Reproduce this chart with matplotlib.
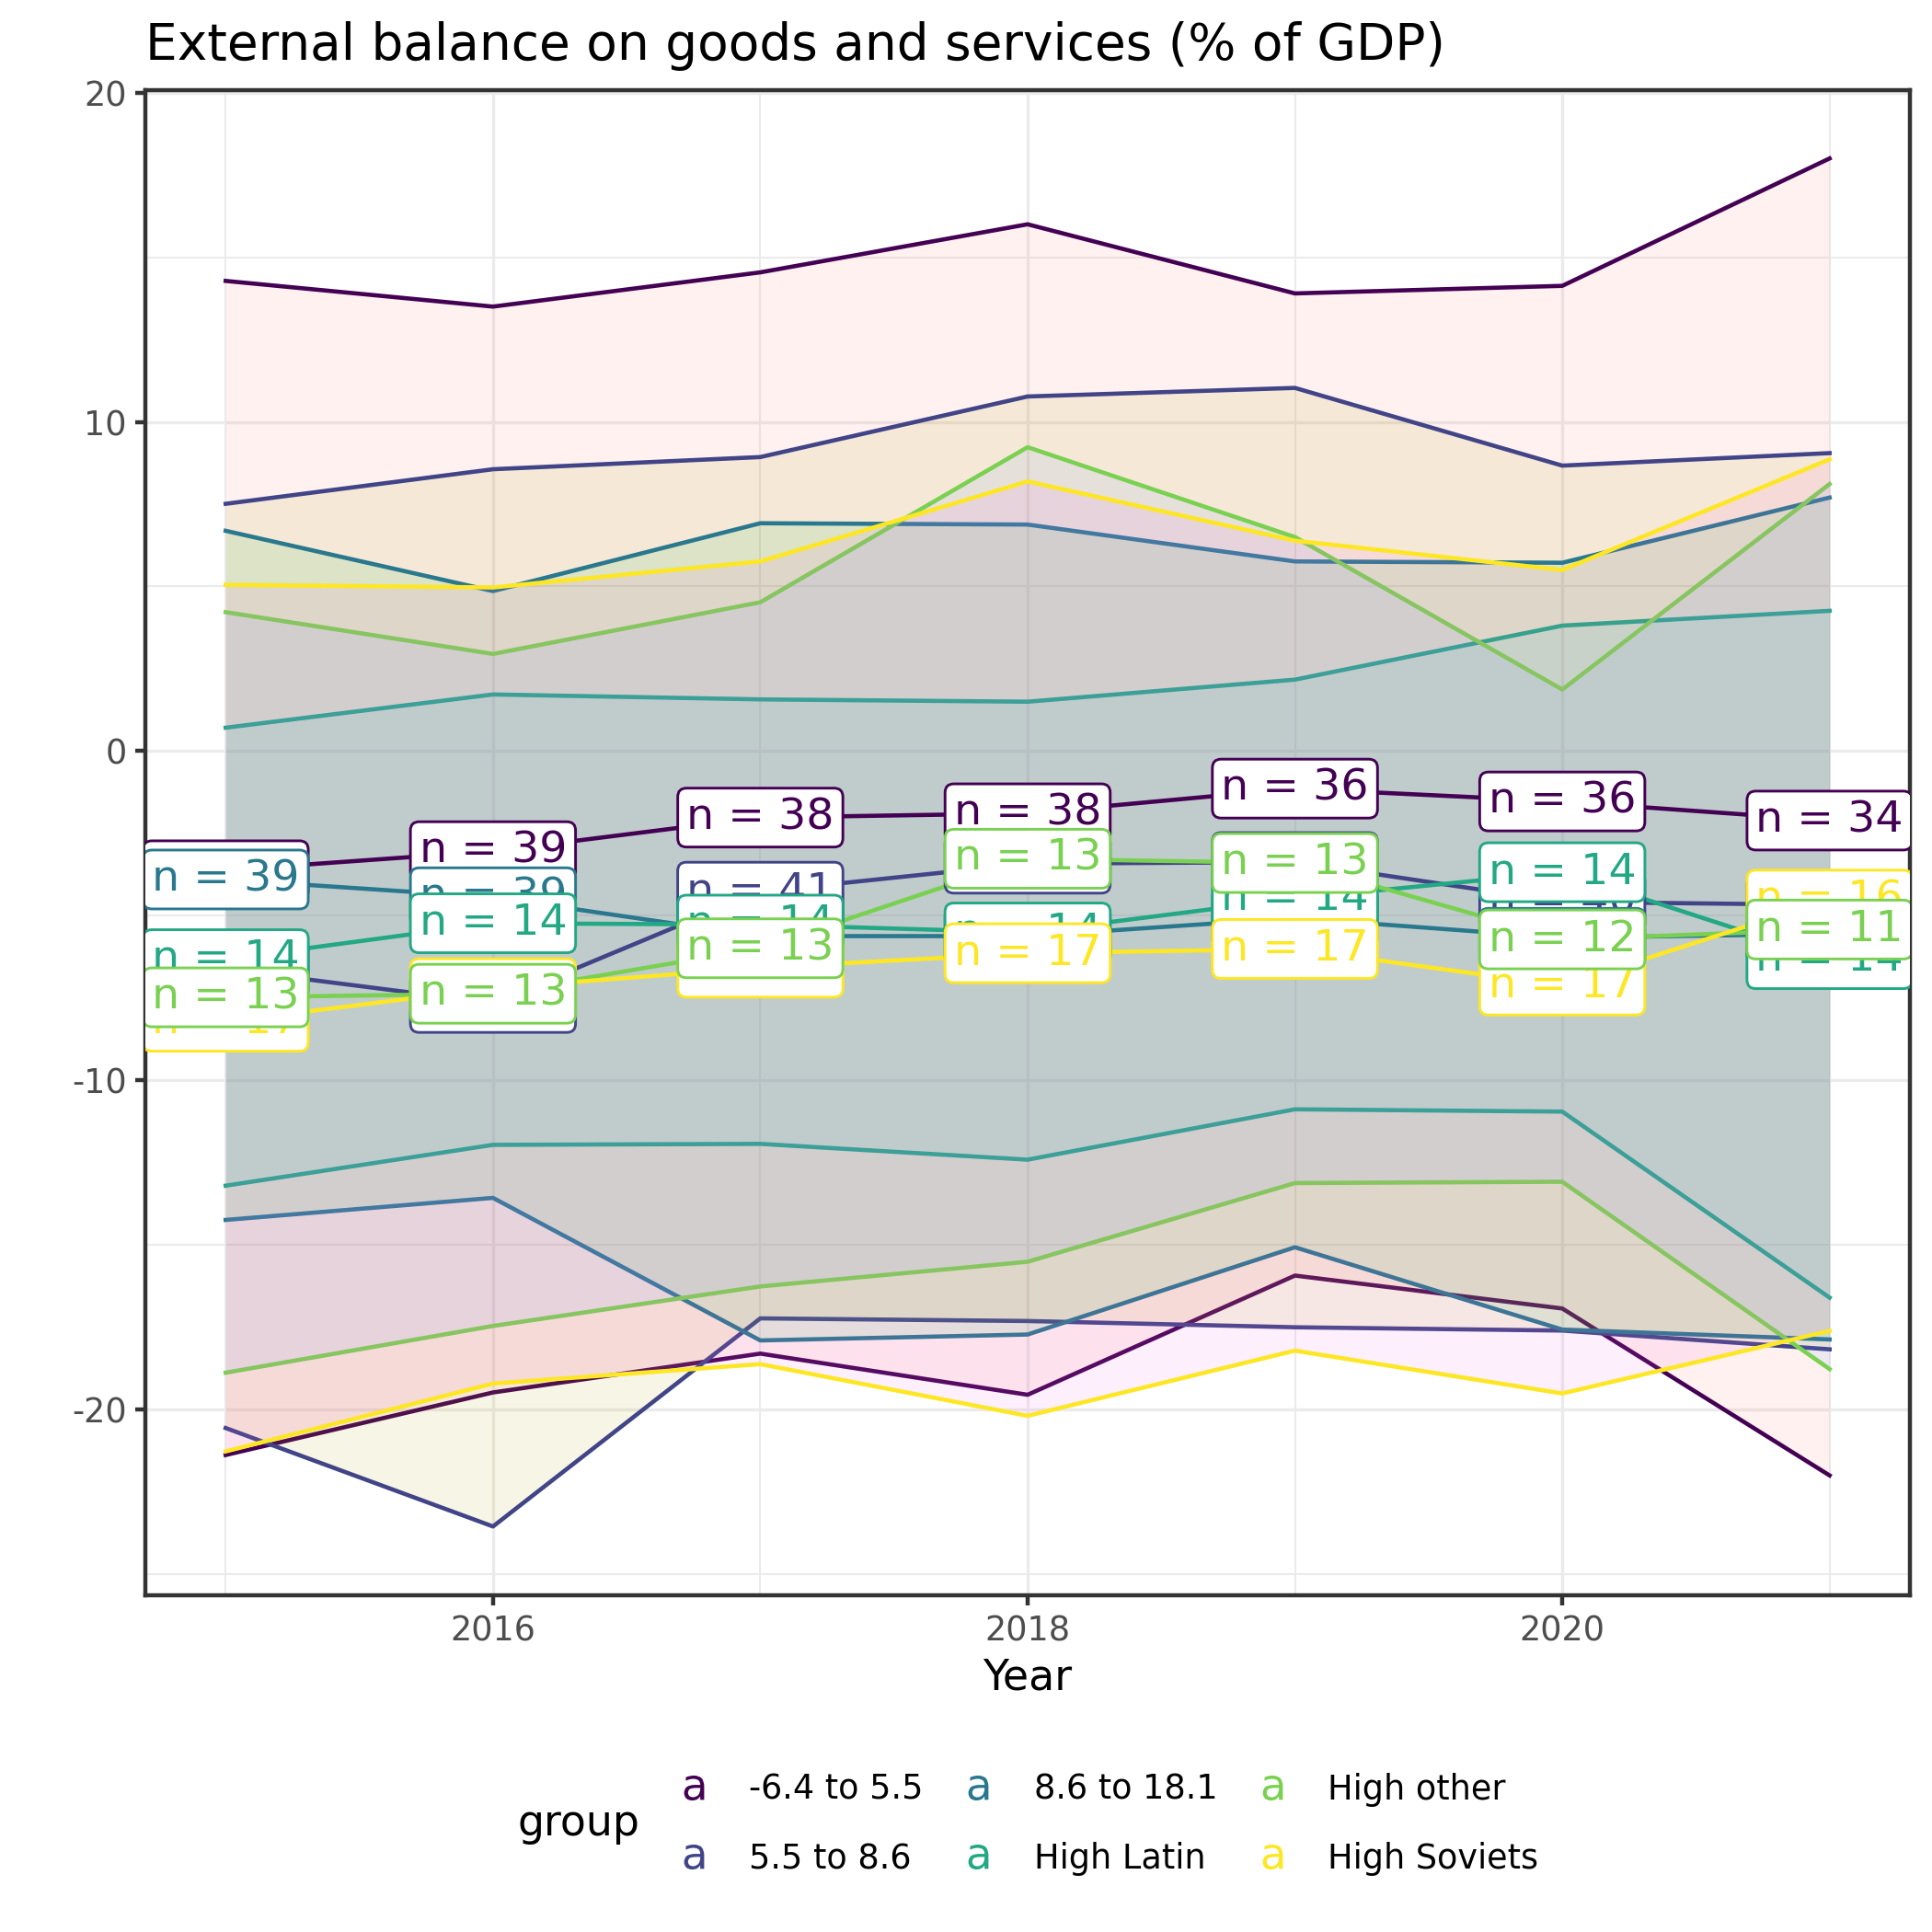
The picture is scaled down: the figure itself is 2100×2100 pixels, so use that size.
import matplotlib
matplotlib.use("Agg")
import matplotlib.pyplot as plt
from matplotlib.lines import Line2D
from matplotlib.ticker import MultipleLocator

plt.rcParams['font.family'] = 'DejaVu Sans'
plt.rcParams['axes.unicode_minus'] = False

years = [2015, 2016, 2017, 2018, 2019, 2020, 2021]
groups = ["-6.4 to 5.5", "5.5 to 8.6", "8.6 to 18.1", "High Latin", "High other", "High Soviets"]
line_colors = ["#440154", "#414487", "#2A788E", "#22A884", "#7AD151", "#FDE725"]
fill_colors = ["#F8766D", "#B79F00", "#00BA38", "#00BFC4", "#619CFF", "#F564E3"]

# per group, one value per year
upper = [
    [14.28, 13.50, 14.54, 16.00, 13.90, 14.13, 18.00],
    [7.51, 8.56, 8.93, 10.77, 11.03, 8.67, 9.05],
    [6.69, 4.86, 6.92, 6.88, 5.76, 5.72, 7.70],
    [0.71, 1.72, 1.57, 1.50, 2.17, 3.81, 4.26],
    [4.22, 2.95, 4.52, 9.23, 6.50, 1.87, 8.11],
    [5.05, 4.97, 5.76, 8.19, 6.39, 5.50, 8.86],
]
lower = [
    [-21.38, -19.48, -18.30, -19.55, -15.93, -16.93, -22.00],
    [-20.56, -23.55, -17.23, -17.31, -17.50, -17.60, -18.17],
    [-14.24, -13.57, -17.90, -17.72, -15.07, -17.57, -17.87],
    [-13.20, -11.96, -11.93, -12.41, -10.88, -10.95, -16.60],
    [-18.88, -17.46, -16.26, -15.51, -13.12, -13.08, -18.77],
    [-21.27, -19.21, -18.62, -20.19, -18.21, -19.51, -17.61],
]
middle = [
    [-3.62, -3.04, -2.02, -1.89, -1.14, -1.53, -2.11],
    [-6.62, -7.65, -4.27, -3.42, -3.37, -4.58, -4.67],
    [-3.90, -4.44, -5.62, -5.62, -5.07, -5.67, -5.55],
    [-6.32, -5.23, -5.27, -5.51, -4.48, -3.68, -6.32],
    [-7.48, -7.37, -5.99, -3.27, -3.40, -5.72, -5.42],
    [-8.22, -7.20, -6.58, -6.14, -6.01, -7.12, -4.51],
]
counts = [
    [40, 39, 38, 38, 36, 36, 34],
    [39, 39, 41, 40, 40, 40, 39],
    [39, 39, 39, 40, 40, 40, 39],
    [14, 14, 14, 14, 14, 14, 14],
    [13, 13, 13, 13, 13, 12, 11],
    [17, 17, 17, 17, 17, 17, 16],
]
label_order = [0, 1, 2, 3, 5, 4]

fig = plt.figure(figsize=(7, 7), dpi=300)
ax = fig.add_axes([0.0753, 0.1745, 0.9132, 0.7789])

for i in range(len(groups)):
    ax.fill_between(years, lower[i], upper[i], color=fill_colors[i], alpha=0.1, lw=0, zorder=2)
    ax.plot(years, upper[i], color=line_colors[i], lw=1.1, zorder=2)
    ax.plot(years, lower[i], color=line_colors[i], lw=1.1, zorder=2)

for i in range(len(groups)):
    ax.plot(years, middle[i], color=line_colors[i], lw=1.1, zorder=3)

for k, i in enumerate(label_order):
    for x, y, n in zip(years, middle[i], counts[i]):
        t = ax.text(x, y, f"n = {n}", color=line_colors[i], fontsize=11.4,
                    ha='center', va='center', zorder=4 + k * 0.01,
                    bbox=dict(boxstyle='round,pad=0.2,rounding_size=0.2',
                              fc='white', ec=line_colors[i], lw=0.7))
        t.set_clip_on(True)

lo = min(min(v) for v in lower)
hi = max(max(v) for v in upper)
ax.set_ylim(lo - 0.05 * (hi - lo), hi + 0.05 * (hi - lo))
span = years[-1] - years[0]
ax.set_xlim(years[0] - 0.05 * span, years[-1] + 0.05 * span)

ax.xaxis.set_major_locator(MultipleLocator(2))
ax.xaxis.set_minor_locator(MultipleLocator(1))
ax.yaxis.set_major_locator(MultipleLocator(10))
ax.yaxis.set_minor_locator(MultipleLocator(5))
ax.set_axisbelow(True)
ax.grid(which='major', color='#EBEBEB', lw=0.8)
ax.grid(which='minor', color='#EBEBEB', lw=0.5)
ax.tick_params(which='major', length=2.75, width=1.07, color='#333333',
               labelcolor='#4D4D4D', labelsize=8.8, pad=2.2)
ax.tick_params(which='minor', length=0)
for s in ax.spines.values():
    s.set_color('#333333')
    s.set_linewidth(1.07)

ax.set_xlabel("Year", fontsize=11, labelpad=2.5)
fig.text(0.0753, 0.9692, "External balance on goods and services (% of GDP)",
         fontsize=13.2, ha='left', va='baseline')

handles = [Line2D([], [], ls='none', marker=r'$\mathregular{a}$', markersize=6.5,
                  markeredgewidth=0, color=c) for c in line_colors]
fig.legend(handles, groups, ncol=3, loc='center left', bbox_to_anchor=(0.3503, 0.0558),
           frameon=False, fontsize=8.8, handlelength=1.0, handletextpad=1.15,
           columnspacing=1.12, labelspacing=1.05, borderpad=0, borderaxespad=0)
fig.text(0.268, 0.0558, "group", fontsize=11, ha='left', va='center')

fig.savefig("out.png", dpi=300)
